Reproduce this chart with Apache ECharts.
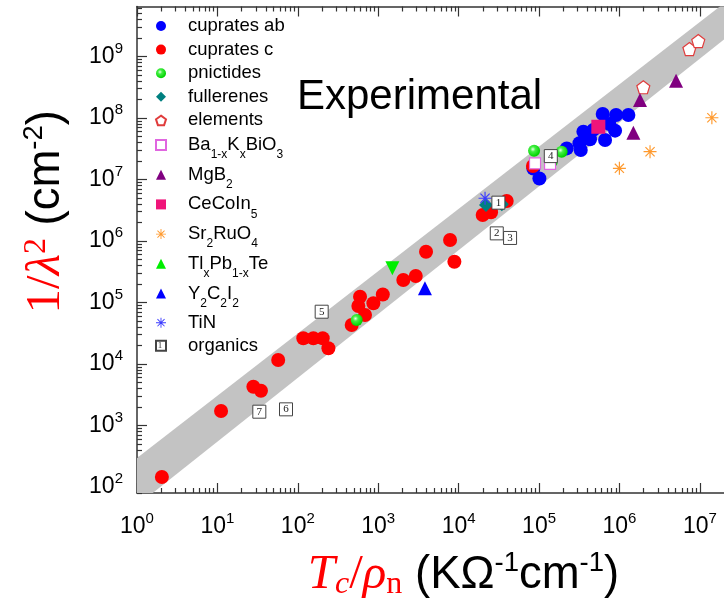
<!DOCTYPE html>
<html>
<head>
<meta charset="utf-8">
<script src="https://cdn.jsdelivr.net/npm/echarts@6/dist/echarts.min.js"></script>
<style>
  html, body { margin: 0; padding: 0; background: #fff; }
  #chart { width: 724px; height: 598px; }
</style>
</head>
<body>
<div id="chart"></div>
<script>
// Superfluid density 1/λ² against Tc/ρn for several superconductor families (log–log)

const cupratesAb = [
  [84900, 1.51e7], [101000, 1.04e7], [221000, 3.2e7], [356000, 5.98e7], [318000, 3.88e7],
  [330000, 3.02e7], [430000, 4.5e7], [473000, 6.4e7], [619000, 1.16e8], [662000, 4.38e7],
  [749000, 7.98e7], [908000, 1.12e8], [882000, 6.22e7], [1.29e6, 1.12e8]
];
const cupratesC = [
  [2.04, 145], [11.1, 1720], [28, 4270], [34.8, 3680], [57, 11600], [117, 26200],
  [156, 26200], [204, 26200], [240, 18000], [468, 43000], [685, 62600], [566, 87700],
  [594, 124000], [870, 97000], [1140, 135000], [2050, 232000], [2930, 270000],
  [3930, 670000], [7820, 1.04e6], [8850, 460000], [19900, 2.65e6], [25300, 2.93e6],
  [39600, 4.47e6], [84000, 1.66e7]
];
const pnictides = [[540, 51900], [86700, 2.94e7], [191000, 2.83e7], [144000, 1.95e7]];
const fullerenes = [[21900, 3.85e6], [34400, 3.95e6]];
const elements = [[1.98e6, 3.16e8], [7.41e6, 1.32e9], [9.55e6, 1.78e9]];
const bkbo = [[89100, 1.83e7], [137000, 1.79e7]];
const mgb2 = [[1.8e6, 1.96e8], [5.06e6, 4.04e8], [1.49e6, 5.75e7]];
const cecoin5 = [[546000, 7.2e7]];
const sr2ruo4 = [[998000, 1.52e7], [2.4e6, 2.83e7], [1.41e7, 1.01e8]];
const tlpbte = [[1500, 360000]];
const y2c2i2 = [[3810, 170000]];
const tin = [[21300, 4.95e6]];
const organics = [
  [31200, 4.2e6, '1'], [29800, 1.33e6, '2'], [43600, 1.12e6, '3'], [140000, 2.4e7, '4'],
  [198, 70800, '5'], [71.3, 1830, '6'], [33.2, 1675, '7']
];

// Grey band enclosing the data: its two edges at the ends of the x range
const bandX = [1, 2e7];
const bandUpper = [295, 7.35e9];
const bandLower = [50, 1.9e9];

// Axis ticks
const xMajor = [1, 1e1, 1e2, 1e3, 1e4, 1e5, 1e6, 1e7];
const yMajor = [1e2, 1e3, 1e4, 1e5, 1e6, 1e7, 1e8, 1e9];
const minorOf = (majors, extra) => {
  const out = [];
  majors.concat(extra).forEach(d => { for (let k = 2; k <= 9; k++) out.push(d * k); });
  return out;
};
const xMinor = minorOf(xMajor, []);
const yMinor = minorOf(yMajor, [10]);

const X_MIN = 1, X_MAX = Math.pow(10, 7.3);
const Y_MIN = Math.pow(10, 1.902), Y_MAX = Math.pow(10, 9.813);

const SANS = 'Liberation Sans';
const SERIF = 'Liberation Serif';
const AXIS_COLOR = '#333';

const pentagon = 'path://M0,-10L9.51,-3.09L5.88,8.09L-5.88,8.09L-9.51,-3.09Z';
const asterisk = 'path://M-10,-0.9L10,-0.9L10,0.9L-10,0.9Z' +
  'M-0.9,-10L0.9,-10L0.9,10L-0.9,10Z' +
  'M-6.43,-7.7L7.7,6.43L6.43,7.7L-7.7,-6.43Z' +
  'M6.43,-7.7L7.7,-6.43L-6.43,7.7L-7.7,6.43Z';

const powLabel = v => '{b|10}{s|' + Math.round(Math.log10(v)) + '}';
const tickRich = {
  b: { fontFamily: SANS, fontSize: 23, lineHeight: 26, color: '#000', verticalAlign: 'middle' },
  s: { fontFamily: SANS, fontSize: 15, lineHeight: 16, padding: [0, 0, 16, 0], color: '#000', verticalAlign: 'middle' }
};

function logAxis(kind, opts) {
  const major = kind === 'x' ? xMajor : yMajor;
  const minor = kind === 'x' ? xMinor : yMinor;
  const isMinor = opts.minor;
  return Object.assign({
    type: 'log',
    logBase: 10,
    gridIndex: 0,
    min: kind === 'x' ? X_MIN : Y_MIN,
    max: kind === 'x' ? X_MAX : Y_MAX,
    splitLine: { show: false },
    axisLine: { show: !isMinor, lineStyle: { color: AXIS_COLOR, width: 1.5 } },
    axisTick: {
      show: true, inside: true, length: isMinor ? 5 : 10,
      customValues: isMinor ? minor : major,
      lineStyle: { color: AXIS_COLOR, width: 1.2 }
    },
    axisLabel: {
      show: !!opts.labels,
      customValues: major,
      formatter: powLabel,
      rich: tickRich,
      margin: kind === 'x' ? 21 : 14
    }
  }, opts.extra || {});
}

const sub = (t) => '{sb|' + t + '}';
const legendRich = {
  sb: { fontFamily: SANS, fontSize: 12, lineHeight: 14, padding: [20, 0, 0, 0], verticalAlign: 'middle', color: '#000' },
  m: { fontFamily: SANS, fontSize: 18.5, lineHeight: 20, verticalAlign: 'middle', color: '#000' }
};
const legendNames = {
  'Ba1-xKxBiO3': '{m|Ba}' + sub('1-x') + '{m|K}' + sub('x') + '{m|BiO}' + sub('3'),
  'MgB2': '{m|MgB}' + sub('2'),
  'CeCoIn5': '{m|CeCoIn}' + sub('5'),
  'Sr2RuO4': '{m|Sr}' + sub('2') + '{m|RuO}' + sub('4'),
  'TlxPb1-xTe': '{m|Tl}' + sub('x') + '{m|Pb}' + sub('1-x') + '{m|Te}',
  'Y2C2I2': '{m|Y}' + sub('2') + '{m|C}' + sub('2') + '{m|I}' + sub('2')
};
const legendBase = {
  orient: 'vertical', left: 155, padding: 0,
  itemWidth: 10, itemHeight: 10,
  symbolKeepAspect: true,
  selectedMode: false,
  textStyle: { fontFamily: SANS, fontSize: 18.5, color: '#000', lineHeight: 20, padding: [0, 0, 0, 17] }
};

const chart = echarts.init(document.getElementById('chart'), null, { renderer: 'canvas' });

function scatter(name, data, symbol, size, style, extra) {
  return Object.assign({
    name, type: 'scatter', data, symbol, symbolSize: size,
    xAxisIndex: 0, yAxisIndex: 0,
    itemStyle: Object.assign({ opacity: 1 }, style),
    emphasis: { disabled: true }
  }, extra || {});
}

const mathRed = '#ff0000';
const titleRich = {
  mi: { fontFamily: SERIF, fontStyle: 'italic', fontSize: 49, color: mathRed, lineHeight: 51, verticalAlign: 'middle' },
  mu: { fontFamily: SERIF, fontSize: 49, color: mathRed, lineHeight: 51, verticalAlign: 'middle' },
  ms: { fontFamily: SERIF, fontStyle: 'italic', fontSize: 32, color: mathRed, lineHeight: 32, padding: [19, 0, 0, 0], verticalAlign: 'middle' },
  mn: { fontFamily: SERIF, fontSize: 32, color: mathRed, lineHeight: 32, padding: [19, 0, 0, 0], verticalAlign: 'middle' },
  msup: { fontFamily: SERIF, fontSize: 32, color: mathRed, lineHeight: 32, padding: [0, 0, 19, 0], verticalAlign: 'middle' },
  u: { fontFamily: SANS, fontSize: 45.5, color: '#000', lineHeight: 51, verticalAlign: 'middle' },
  us: { fontFamily: SANS, fontSize: 27.5, color: '#000', lineHeight: 28, padding: [0, 0, 23, 0], verticalAlign: 'middle' }
};

const option = {
  animation: false,
  backgroundColor: '#fff',
  grid: { left: 137, right: 0, top: 6.5, bottom: 105, outerBoundsMode: 'none', containLabel: false },
  xAxis: [
    logAxis('x', { labels: true, extra: {
      position: 'bottom',
      name: '{mi|T}{ms|c}{mu|/}{mi|ρ}{mn|n}{u| (KΩ}{us|-1}{u|cm}{us|-1}{u|)}',
      nameLocation: 'middle', nameGap: 56.5,
      nameTextStyle: { padding: [0, 0, 0, 66], rich: titleRich }
    } }),
    logAxis('x', { minor: true, extra: { position: 'bottom' } }),
    logAxis('x', { extra: { position: 'top' } }),
    logAxis('x', { minor: true, extra: { position: 'top' } })
  ],
  yAxis: [
    logAxis('y', { labels: true, extra: {
      position: 'left',
      name: '{mu|1/}{mi|λ}{msup|2}{u| (cm}{us|-2}{u|)}',
      nameLocation: 'middle', nameGap: 65.5, nameRotate: 90,
      nameTextStyle: { padding: [0, 0, 0, 76], rich: titleRich }
    } }),
    logAxis('y', { minor: true, extra: { position: 'left' } })
  ],
  legend: [
    Object.assign({}, legendBase, {
      top: 16, itemGap: 3.6,
      data: ['cuprates ab', 'cuprates c', 'pnictides', 'fullerenes', 'elements']
    }),
    Object.assign({}, legendBase, {
      top: 129, itemGap: -2.3,
      data: ['Ba1-xKxBiO3', 'MgB2', 'CeCoIn5', 'Sr2RuO4', 'TlxPb1-xTe', 'Y2C2I2'],
      formatter: n => legendNames[n],
      textStyle: { fontFamily: SANS, fontSize: 18.5, color: '#000', padding: [0, 0, 0, 17], rich: legendRich }
    }),
    Object.assign({}, legendBase, {
      top: 312.7, itemGap: 3,
      data: ['TiN', 'organics']
    })
  ],
  graphic: [
    {
      type: 'text', left: 297, top: 76, z: 10,
      style: { text: 'Experimental', fontFamily: SANS, fontSize: 42, fill: '#000' }
    },
    {
      type: 'text', x: 160, y: 346, z: 100,
      style: { text: '1', fontFamily: SERIF, fontSize: 9, fill: '#333', align: 'center', verticalAlign: 'middle' }
    }
  ],
  series: [
    {
      type: 'custom',
      name: 'band',
      xAxisIndex: 0, yAxisIndex: 0,
      clip: true, silent: true, z: 1,
      data: bandX.map((x, i) => [x, bandUpper[i], bandLower[i]]),
      encode: { x: 0, y: 1 },
      renderItem: (params, api) => {
        if (params.dataIndex !== 0) return null;
        const pts = [];
        for (let i = 0; i < bandX.length; i++) pts.push(api.coord([bandX[i], bandUpper[i]]));
        for (let i = bandX.length - 1; i >= 0; i--) pts.push(api.coord([bandX[i], bandLower[i]]));
        return { type: 'polygon', shape: { points: pts }, style: { fill: '#c3c3c3' } };
      }
    },
    scatter('cuprates ab', cupratesAb, 'circle', 14, { color: '#0000ff' }),
    scatter('cuprates c', cupratesC, 'circle', 14, { color: '#ff0000' }),
    scatter('pnictides', pnictides, 'circle', 12, {
      color: { type: 'radial', x: 0.4, y: 0.38, r: 0.6,
        colorStops: [{ offset: 0, color: '#eaffea' }, { offset: 0.35, color: '#44f044' }, { offset: 1, color: '#00d200' }] }
    }),
    scatter('fullerenes', fullerenes, 'diamond', 14, { color: '#008080' }),
    scatter('elements', elements, pentagon, 13, { color: '#ffffff', borderColor: '#e03c3c', borderWidth: 1.2 }),
    scatter('Ba1-xKxBiO3', bkbo, 'rect', 11, { color: '#ffffff', borderColor: '#e066e0', borderWidth: 1.2 }),
    scatter('MgB2', mgb2, 'triangle', 14, { color: '#800080' }),
    scatter('CeCoIn5', cecoin5, 'rect', 14, { color: '#f0157a' }),
    scatter('Sr2RuO4', sr2ruo4, asterisk, 13, { color: '#ff9a2e' }),
    scatter('TlxPb1-xTe', tlpbte, 'triangle', 14, { color: '#00ee00' }, { symbolRotate: 180 }),
    scatter('Y2C2I2', y2c2i2, 'triangle', 14, { color: '#0000ff' }),
    scatter('TiN', tin, asterisk, 13, { color: '#3c3cff' }),
    scatter('organics', organics, 'rect', 13, { color: '#ffffff', borderColor: '#444', borderWidth: 1 }, {
      label: {
        show: true, position: 'inside',
        formatter: p => p.data[2],
        fontFamily: SERIF, fontSize: 11, color: '#222'
      }
    })
  ]
};

chart.setOption(option);
</script>
</body>
</html>
